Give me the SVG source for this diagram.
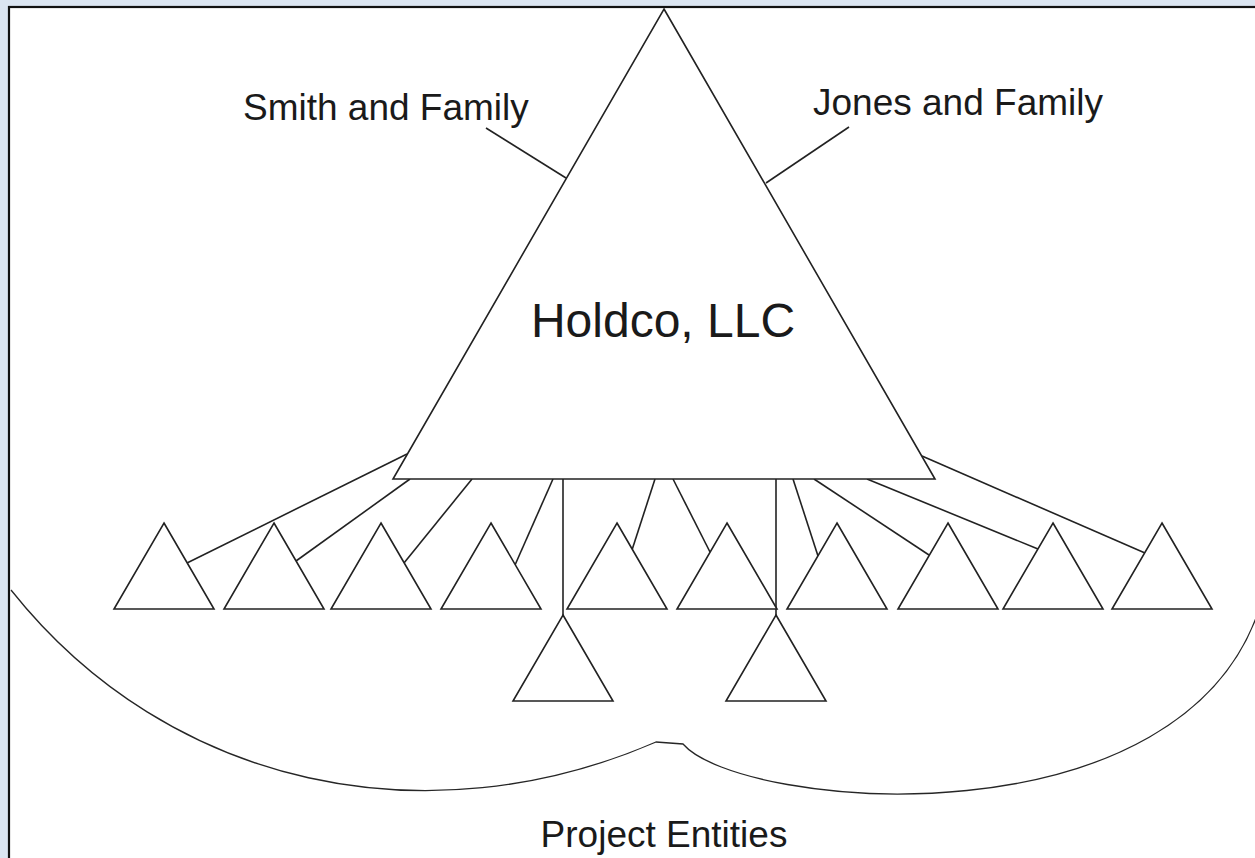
<svg xmlns="http://www.w3.org/2000/svg" xmlns:xlink="http://www.w3.org/1999/xlink" width="1255" height="858" viewBox="0 0 1255 858">
  <style>
    .shape { fill: #ffffff; stroke: #222222; stroke-width: 1.6; stroke-linejoin: miter; }
    .link { fill: none; stroke: #222222; stroke-width: 1.6; }
    .curve { fill: none; stroke: #262626; stroke-width: 1.3; }
    .label { font-family: "Liberation Sans", Arial, sans-serif; fill: #1a1a1a; }
  </style>
  <defs>
    <!-- small entity triangle, apex at origin -->
    <path id="tri" class="shape" d="M0 0 L50 86 L-50 86 Z"/>
  </defs>

  <!-- page frame -->
  <rect x="0" y="0" width="1255" height="858" fill="#dbe5f1"/>
  <rect x="9" y="7" width="1260" height="860" fill="#ffffff" stroke="#111111" stroke-width="2.2"/>

  <!-- grouping curve around the project entities -->
  <g id="project-boundary">
    <path class="curve" d="M11 590 C170 790, 430 840, 656 742 L683 744 C740 810, 1190 850, 1262 600"/>
  </g>

  <!-- connectors -->
  <g id="connectors">
    <line class="link" x1="486" y1="128" x2="566" y2="178"/>
    <line class="link" x1="849" y1="127" x2="766" y2="183"/>
    <line class="link" x1="407" y1="454" x2="187" y2="563"/>
    <line class="link" x1="410" y1="479" x2="296" y2="561"/>
    <line class="link" x1="472" y1="479" x2="404" y2="563"/>
    <line class="link" x1="553" y1="479" x2="515" y2="565"/>
    <line class="link" x1="563" y1="479" x2="563" y2="615"/>
    <line class="link" x1="655" y1="479" x2="632" y2="550"/>
    <line class="link" x1="673" y1="479" x2="710" y2="552"/>
    <line class="link" x1="776" y1="479" x2="776" y2="615"/>
    <line class="link" x1="793" y1="479" x2="818" y2="556"/>
    <line class="link" x1="814" y1="479" x2="929" y2="555"/>
    <line class="link" x1="867" y1="479" x2="1038" y2="549"/>
    <line class="link" x1="922" y1="456" x2="1145" y2="553"/>
  </g>

  <!-- holding company -->
  <g id="holdco">
    <polygon class="shape" points="664,9 935,479 393,479"/>
    <text class="label" x="663" y="337" font-size="48" text-anchor="middle">Holdco, LLC</text>
  </g>

  <!-- owners -->
  <g id="smith">
    <text class="label" x="243" y="120" font-size="37">Smith and Family</text>
  </g>
  <g id="jones">
    <text class="label" x="813" y="115" font-size="37">Jones and Family</text>
  </g>

  <!-- project entities, top row -->
  <g id="entity-1"><use xlink:href="#tri" x="164" y="523"/></g>
  <g id="entity-2"><use xlink:href="#tri" x="274" y="523"/></g>
  <g id="entity-3"><use xlink:href="#tri" x="381" y="523"/></g>
  <g id="entity-4"><use xlink:href="#tri" x="491" y="523"/></g>
  <g id="entity-5"><use xlink:href="#tri" x="617" y="523"/></g>
  <g id="entity-6"><use xlink:href="#tri" x="727" y="523"/></g>
  <g id="entity-7"><use xlink:href="#tri" x="837" y="523"/></g>
  <g id="entity-8"><use xlink:href="#tri" x="948" y="523"/></g>
  <g id="entity-9"><use xlink:href="#tri" x="1053" y="523"/></g>
  <g id="entity-10"><use xlink:href="#tri" x="1162" y="523"/></g>

  <!-- project entities, second tier -->
  <g id="entity-11"><use xlink:href="#tri" x="563" y="615"/></g>
  <g id="entity-12"><use xlink:href="#tri" x="776" y="615"/></g>

  <!-- caption -->
  <g id="caption">
    <text class="label" x="664" y="847" font-size="37" text-anchor="middle">Project Entities</text>
  </g>
</svg>
